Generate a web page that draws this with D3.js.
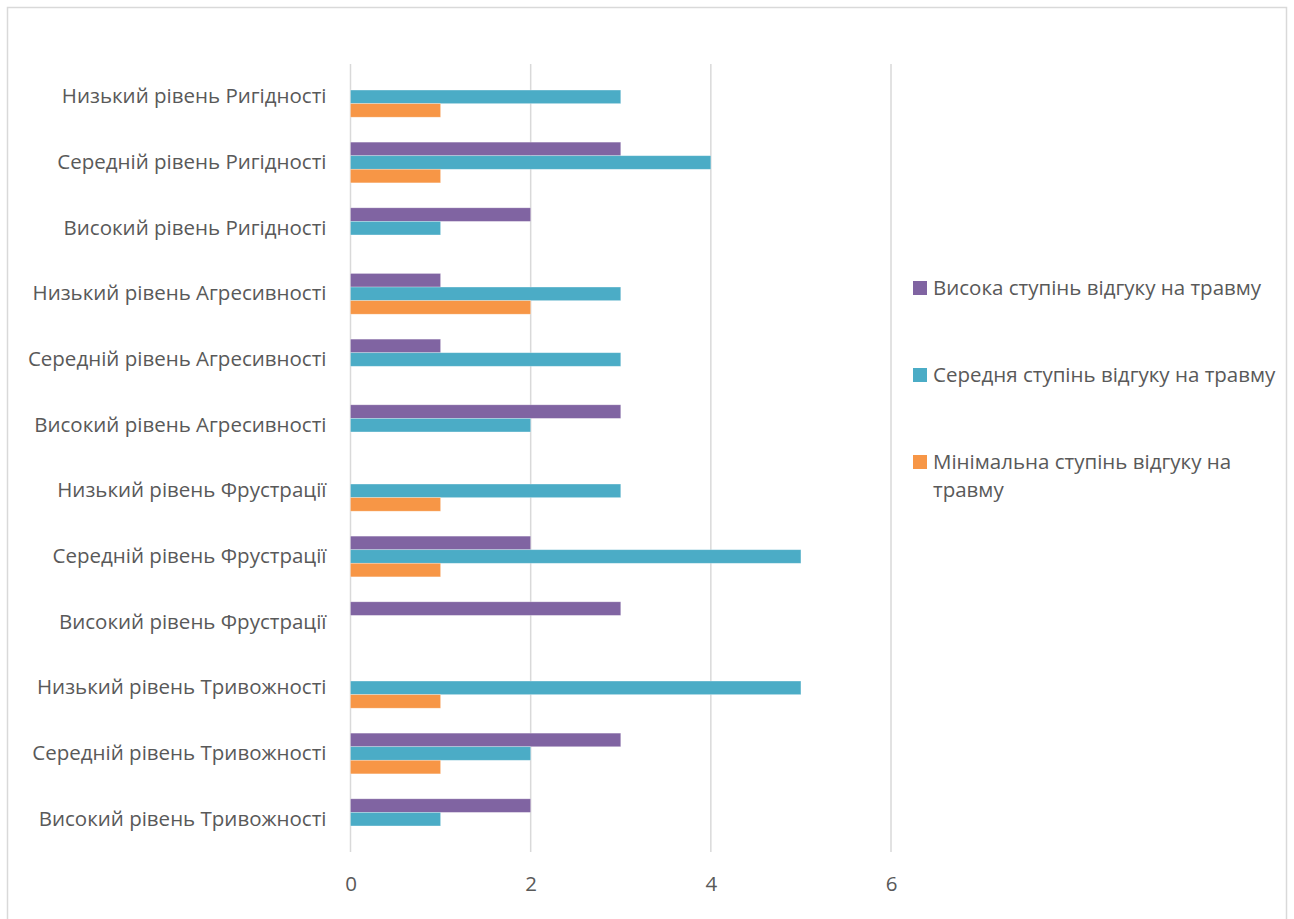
<!DOCTYPE html>
<html>
<head>
<meta charset="utf-8">
<script src="https://cdn.jsdelivr.net/npm/d3@7"></script>
<style>
  html, body { margin: 0; padding: 0; background: #fff; }
  svg { display: block; }
  text { font-family: "Open Sans", "Noto Sans", sans-serif; fill: #595959; }
</style>
</head>
<body>
<svg id="chart" width="1294" height="919"></svg>
<script>
// Categories, top to bottom
const categories = [
  "Низький рівень Ригідності",
  "Середній рівень Ригідності",
  "Високий рівень Ригідності",
  "Низький рівень Агресивності",
  "Середній рівень Агресивності",
  "Високий рівень Агресивності",
  "Низький рівень Фрустрації",
  "Середній рівень Фрустрації",
  "Високий рівень Фрустрації",
  "Низький рівень Тривожності",
  "Середній рівень Тривожності",
  "Високий рівень Тривожності"
];

const seriesNames = [
  "Висока ступінь відгуку на травму",
  "Середня ступінь відгуку на травму",
  "Мінімальна ступінь відгуку на травму"
];

const seriesColors = ["#8064A2", "#4BACC6", "#F79646"];

// Values per series, same order as categories
const highResponse    = [0, 3, 2, 1, 1, 3, 0, 2, 3, 0, 3, 2];
const mediumResponse  = [3, 4, 1, 3, 3, 2, 3, 5, 0, 5, 2, 1];
const minimalResponse = [1, 1, 0, 2, 0, 0, 1, 1, 0, 1, 1, 0];

const xTicks = [0, 2, 4, 6];

const seriesValues = [highResponse, mediumResponse, minimalResponse];

const FONT_SIZE = "20.5px";

const svg = d3.select("#chart");

// Outer chart border
svg.append("rect")
  .attr("x", 7.5).attr("y", 7.5)
  .attr("width", 1279).attr("height", 915)
  .attr("fill", "none")
  .attr("stroke", "#d9d9d9")
  .attr("stroke-width", 1.5);

const plot = { left: 350.5, right: 891, top: 64, bottom: 852 };

const x = d3.scaleLinear().domain([0, 6]).range([plot.left, plot.right]);

const y = d3.scaleBand()
  .domain(categories)
  .range([plot.top, plot.bottom])
  .paddingInner(0.38)
  .paddingOuter(0.19);

const ySub = d3.scaleBand()
  .domain(d3.range(seriesNames.length))
  .range([0, y.bandwidth()]);

// Value axis labels
const xAxis = d3.axisBottom(x).tickValues(xTicks).tickSize(0).tickFormat(d3.format("d"));
const gx = svg.append("g")
  .attr("transform", `translate(0,${plot.bottom + 21})`)
  .call(xAxis);
gx.select(".domain").remove();
gx.selectAll("text")
  .attr("dy", "0.75em")
  .style("font-size", FONT_SIZE)
  .style("font-family", "\"Open Sans\", sans-serif")
  .attr("fill", "#595959");

// Vertical gridlines
svg.append("g")
  .selectAll("line")
  .data(xTicks)
  .join("line")
  .attr("x1", d => x(d)).attr("x2", d => x(d))
  .attr("y1", plot.top).attr("y2", plot.bottom)
  .attr("stroke", "#d9d9d9")
  .attr("stroke-width", 1.5);

// Bars
const rows = categories.map((c, i) => ({
  category: c,
  values: seriesValues.map((vals, s) => ({ s, v: vals[i] }))
}));

const groups = svg.append("g")
  .selectAll("g")
  .data(rows)
  .join("g")
  .attr("transform", d => `translate(0,${y(d.category)})`);

groups.selectAll("rect")
  .data(d => d.values.filter(e => e.v > 0))
  .join("rect")
  .attr("x", x(0))
  .attr("y", d => ySub(d.s))
  .attr("width", d => x(d.v) - x(0))
  .attr("height", ySub.bandwidth())
  .attr("fill", d => seriesColors[d.s])
  .attr("stroke", "rgba(255,255,255,0.35)")
  .attr("stroke-width", 0.75);

// Category axis
const yAxis = d3.axisLeft(y).tickSize(0).tickPadding(24);
const gy = svg.append("g")
  .attr("transform", `translate(${plot.left},0)`)
  .call(yAxis);
gy.select(".domain").remove();
gy.selectAll("text")
  .style("font-size", FONT_SIZE)
  .style("font-family", "\"Open Sans\", sans-serif")
  .attr("fill", "#595959");

// Legend
const legendItems = [
  { name: ["Висока ступінь відгуку на травму"], y: 288 },
  { name: ["Середня ступінь відгуку на травму"], y: 375 },
  { name: ["Мінімальна ступінь відгуку на", "травму"], y: 462 }
];

const legend = svg.append("g");
legendItems.forEach((item, i) => {
  legend.append("rect")
    .attr("x", 913).attr("y", item.y - 7)
    .attr("width", 14).attr("height", 14)
    .attr("fill", seriesColors[i]);
  const t = legend.append("text")
    .attr("x", 933).attr("y", item.y)
    .style("font-size", FONT_SIZE);
  item.name.forEach((line, k) => {
    t.append("tspan")
      .attr("x", 933)
      .attr("dy", k === 0 ? "0.35em" : "28px")
      .text(line);
  });
});
</script>
</body>
</html>
